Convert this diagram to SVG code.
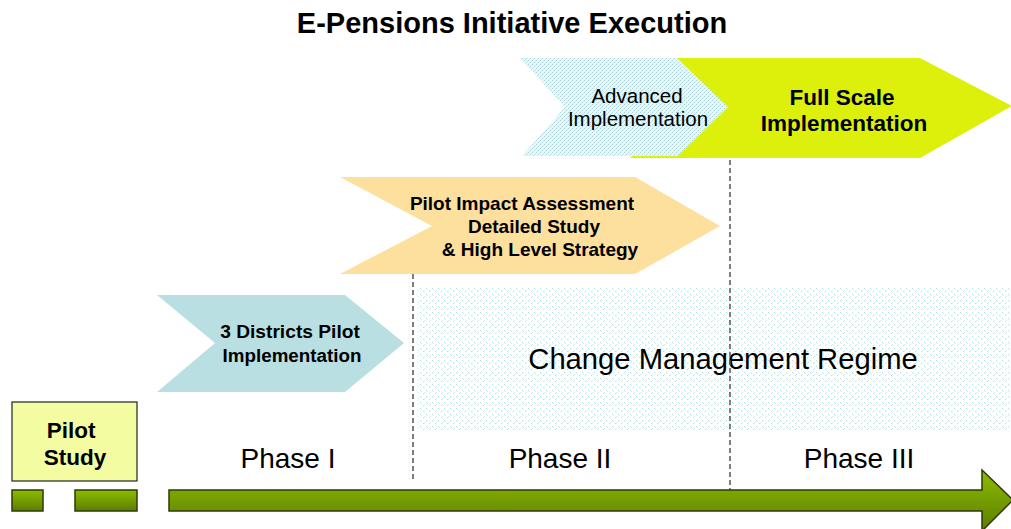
<svg xmlns="http://www.w3.org/2000/svg" width="1011" height="529" viewBox="0 0 1011 529">
<style>
text{font-family:"Liberation Sans",Arial,sans-serif;fill:#000}
.b{font-weight:bold}
.c{text-anchor:middle}
.dash{stroke:#555;stroke-width:1.5;stroke-dasharray:5 3;fill:none}
.bar{fill:url(#gbar);stroke:#2f3a05;stroke-width:1.5}
</style>
<defs>
<pattern id="dots" width="6" height="6" patternUnits="userSpaceOnUse">
<rect width="6" height="6" fill="#ffffff"/>
<rect x="0" y="0" width="1" height="1" fill="#b8dfe4"/>
<rect x="1" y="1" width="1" height="1" fill="#d0ecef"/>
<rect x="3" y="3" width="1" height="1" fill="#b8dfe4"/>
<rect x="4" y="2" width="1" height="1" fill="#d0ecef"/>
</pattern>
<pattern id="dense" width="4" height="4" patternUnits="userSpaceOnUse">
<rect width="4" height="4" fill="#eaf6f7"/>
<rect x="0" y="0" width="1" height="1" fill="#a9d6dc"/>
<rect x="2" y="2" width="1" height="1" fill="#a9d6dc"/>
<rect x="1" y="3" width="1" height="1" fill="#cde8eb"/>
<rect x="3" y="1" width="1" height="1" fill="#cde8eb"/>
</pattern>
<linearGradient id="gbar" x1="0" y1="0" x2="0" y2="1">
<stop offset="0" stop-color="#8cbd00"/>
<stop offset="1" stop-color="#5c7d00"/>
</linearGradient>
</defs>

<text class="b c" x="512" y="33" font-size="29">E-Pensions Initiative Execution</text>

<g id="change-management">
<rect x="418" y="287" width="593" height="145" fill="url(#dots)"/>
<text class="c" x="723" y="369" font-size="29.2">Change Management Regime</text>
</g>

<g id="connectors">
<line class="dash" x1="413" y1="274" x2="413" y2="482"/>
<line class="dash" x1="730" y1="160" x2="730" y2="490"/>
</g>

<g id="full-scale">
<polygon points="630,58 920,58 1012,106 920,158 630,158 680,108" fill="#dcf00c"/>
<text class="b c" x="842" y="105" font-size="22.5">Full Scale</text>
<text class="b c" x="844" y="131" font-size="22.5">Implementation</text>
</g>

<g id="advanced">
<polygon points="520,58 677,58 728,107 678,156 522,156 565,107" fill="url(#dense)"/>
<text class="c" x="637" y="103" font-size="20.5">Advanced</text>
<text class="c" x="638" y="126" font-size="20.5">Implementation</text>
</g>

<g id="pilot-impact">
<polygon points="340,177 635,177 720,226 635,274 340,274 432,226" fill="#fddf9e"/>
<text class="b c" x="522" y="210" font-size="19">Pilot Impact Assessment</text>
<text class="b c" x="534" y="233" font-size="19">Detailed Study</text>
<text class="b c" x="540" y="256" font-size="19">&amp; High Level Strategy</text>
</g>

<g id="districts-pilot">
<polygon points="157,295 345,295 404,343 345,392 157,392 215,343" fill="#b9dfe2"/>
<text class="b c" x="290" y="338" font-size="19.2">3 Districts Pilot</text>
<text class="b c" x="292" y="362" font-size="18.8">Implementation</text>
</g>

<g id="pilot-study">
<rect x="12" y="402" width="125" height="79" fill="#f3fca0" stroke="#222" stroke-width="1.2"/>
<text class="b c" x="71" y="438" font-size="22.5">Pilot</text>
<text class="b c" x="75" y="465" font-size="22.5">Study</text>
</g>

<g id="phases">
<text class="c" x="288" y="468" font-size="28">Phase I</text>
<text class="c" x="560" y="468" font-size="28">Phase II</text>
<text class="c" x="859" y="468" font-size="28">Phase III</text>
</g>

<g id="timeline">
<rect class="bar" x="12" y="490" width="31" height="21"/>
<rect class="bar" x="75" y="490" width="62" height="21"/>
<polygon class="bar" points="169,490 982,490 982,470 1013,500 982,531 982,511 169,511"/>
</g>
</svg>
